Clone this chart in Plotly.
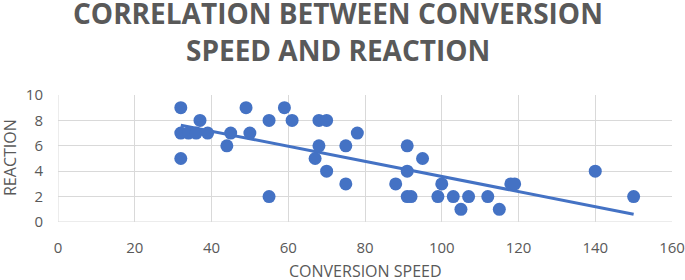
import numpy as np
import plotly.graph_objects as go

speed = [32, 32, 32, 34, 36, 37, 39, 44, 45, 49, 50, 55, 55, 59, 61, 67, 68, 68, 70, 70,
         75, 75, 78, 88, 91, 91, 91, 92, 95, 99, 100, 103, 105, 107, 112, 115, 118, 119, 140, 150]
reaction = [9, 7, 5, 7, 7, 8, 7, 6, 7, 9, 7, 8, 2, 9, 8, 5, 8, 6, 8, 4,
            6, 3, 7, 3, 6, 4, 2, 2, 5, 2, 3, 2, 1, 2, 2, 1, 3, 3, 4, 2]

title_lines = ["CORRELATION BETWEEN CONVERSION", "SPEED AND REACTION"]
x_title = "CONVERSION SPEED"
y_title = "REACTION"

blue = "#4472C4"
gray = "#595959"
grid = "#D9D9D9"

W, H = 685, 280
L, R, T, B = 58, 13, 95, 58
PW, PH = W - L - R, H - T - B


def py(ypix):
    return (H - B - ypix) / PH


def px(xpix):
    return (xpix - L) / PW


slope, intercept = np.polyfit(speed, reaction, 1)
tx = np.array([min(speed), max(speed)])
ty = slope * tx + intercept

fig = go.Figure()
fig.add_trace(go.Scatter(x=tx, y=ty, mode="lines",
                         line=dict(color=blue, width=3), hoverinfo="skip"))
fig.add_trace(go.Scatter(x=speed, y=reaction, mode="markers",
                         marker=dict(color=blue, size=13, line=dict(width=0))))

fig.update_layout(
    width=W, height=H,
    margin=dict(l=L, r=R, t=T, b=B, autoexpand=False),
    paper_bgcolor="white", plot_bgcolor="white",
    showlegend=False,
    font=dict(family="Open Sans", color=gray),
    xaxis=dict(range=[0, 160], dtick=20, showgrid=True, gridcolor=grid, gridwidth=1,
               zeroline=False, showline=False, ticks="", automargin=False,
               ticklabelstandoff=15, tickfont=dict(size=15, color=gray)),
    yaxis=dict(range=[0, 10], dtick=2, showgrid=True, gridcolor=grid, gridwidth=1,
               zeroline=False, showline=False, ticks="", automargin=False,
               ticklabelstandoff=14, tickfont=dict(size=15, color=gray)),
)
fig.add_shape(type="line", xref="x", yref="y", x0=0, x1=160, y0=0, y1=0,
              line=dict(color=grid, width=1), layer="below")
fig.add_shape(type="line", xref="x", yref="y", x0=0, x1=0, y0=0, y1=10,
              line=dict(color=grid, width=1), layer="below")

# title lines
for txt, yc in zip(title_lines, [13, 50]):
    fig.add_annotation(text=txt, xref="paper", yref="paper", x=px(338), y=py(yc),
                       showarrow=False, xanchor="center", yanchor="middle",
                       font=dict(family="Open Sans", size=28, color=gray, weight="bold"))

# axis titles
fig.add_annotation(text=x_title, xref="paper", yref="paper", x=px(365), y=py(271),
                   showarrow=False, xanchor="center", yanchor="middle",
                   font=dict(size=16, color=gray))
fig.add_annotation(text=y_title, xref="paper", yref="paper", x=px(10), y=py(158),
                   showarrow=False, xanchor="center", yanchor="middle", textangle=-90,
                   font=dict(size=16, color=gray))

fig.write_html("out.html", config={"displayModeBar": False},
               post_script="document.body.style.margin='0';")
